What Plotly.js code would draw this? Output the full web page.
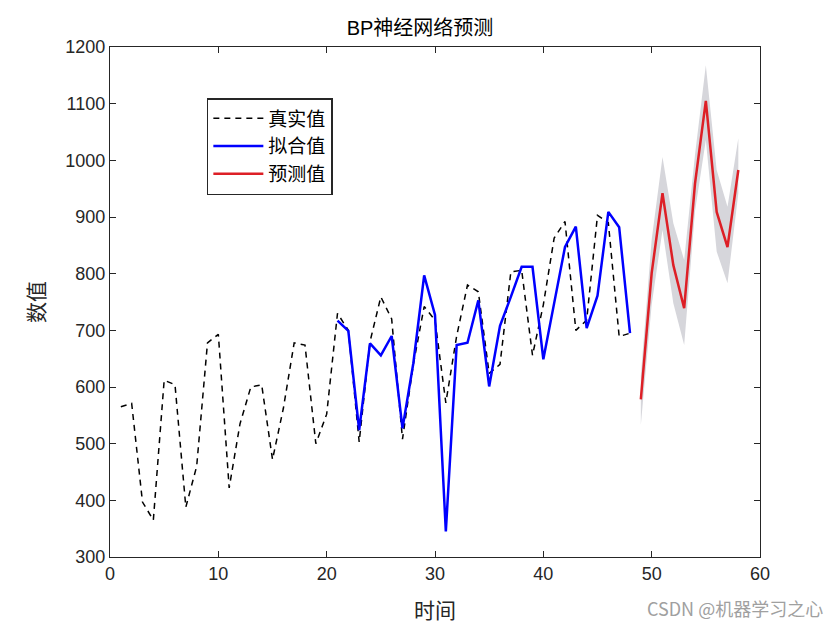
<!DOCTYPE html>
<html>
<head>
<meta charset="utf-8">
<script src="https://cdn.plot.ly/plotly-3.0.1.min.js"></script>
<style>body{margin:0;padding:0;background:#fff;} #chart{width:840px;height:630px;}</style>
</head>
<body>
<div id="chart"></div>
<script>
const trueX = [1,2,3,4,5,6,7,8,9,10,11,12,13,14,15,16,17,18,19,20,21,22,23,24,25,26,27,28,29,30,31,32,33,34,35,36,37,38,39,40,41,42,43,44,45,46,47,48];
const trueY = [565,571,397,365,612,604,388,460,678,693,422,535,600,604,472,562,678,674,500,552,730,700,503,680,759,720,508,640,742,718,572,690,780,768,624,640,803,806,656,745,863,892,700,718,903,890,689,695];
const fitX = [21,22,23,24,25,26,27,28,29,30,31,32,33,34,35,36,37,38,39,40,41,42,43,44,45,46,47,48];
const fitY = [717,699,524,677,656,690,527,642,797,727,345,674,678,753,601,708,759,812,812,649,748,847,883,704,761,909,882,695];
const predX = [49,50,51,52,53,54,55,56,57,58];
const predY = [578,801,942,815,739,959,1105,909,847,983];
const predUpper = [620,860,1006,889,824,1010,1168,983,918,1039];
const predLower = [533,745,877,748,674,910,1036,839,783,942];
const xTicks = [0,10,20,30,40,50,60];
const yTicks = [300,400,500,600,700,800,900,1000,1100,1200];

const cjk = '"Noto Sans CJK SC", sans-serif';
const tickFont = {family: '"Liberation Sans", Arial, sans-serif', size: 18, color: '#262626'};

const traces = [
  {x: trueX, y: trueY, mode: 'lines', name: '真实值', line: {color: '#000000', width: 1.5, dash: '6px,5px'}},
  {x: fitX, y: fitY, mode: 'lines', name: '拟合值', line: {color: '#0000ff', width: 2.5}},
  {x: predX, y: predUpper, mode: 'lines', line: {width: 0, color: 'rgba(0,0,0,0)'}, showlegend: false, hoverinfo: 'skip'},
  {x: predX, y: predLower, mode: 'lines', line: {width: 0, color: 'rgba(0,0,0,0)'}, fill: 'tonexty', fillcolor: 'rgb(214,214,219)', showlegend: false, hoverinfo: 'skip'},
  {x: predX, y: predY, mode: 'lines', name: '预测值', line: {color: '#dd1f26', width: 2.5}}
];

const layout = {
  width: 840, height: 630,
  margin: {l: 110, r: 80, t: 47, b: 73},
  paper_bgcolor: '#ffffff', plot_bgcolor: '#ffffff',
  title: {text: 'BP神经网络预测', font: {family: '"Liberation Sans", ' + cjk, size: 20, color: '#000'}, x: 0.5, xanchor: 'center', y: 0.955, yanchor: 'middle'},
  xaxis: {
    range: [0, 60], tickvals: xTicks, ticktext: xTicks.map(String),
    showgrid: false, zeroline: false, showline: true, linecolor: '#262626', linewidth: 1.2,
    mirror: 'ticks', ticks: 'inside', ticklen: 6, tickcolor: '#262626', tickwidth: 1,
    tickfont: tickFont,
    title: {text: '时间', font: {family: cjk, size: 21, color: '#262626'}, standoff: 20}
  },
  yaxis: {
    range: [300, 1200], tickvals: yTicks, ticktext: yTicks.map(String),
    showgrid: false, zeroline: false, showline: true, linecolor: '#262626', linewidth: 1.2,
    mirror: 'ticks', ticks: 'inside', ticklen: 6, tickcolor: '#262626', tickwidth: 1,
    tickfont: tickFont,
    title: {text: '数值', font: {family: cjk, size: 21, color: '#262626'}, standoff: 14}
  },
  legend: {
    x: 0.149, y: 0.9, xanchor: 'left', yanchor: 'top', traceorder: 'normal',
    bgcolor: '#ffffff', bordercolor: '#262626', borderwidth: 1.5,
    font: {family: cjk, size: 19, color: '#000'},
    itemwidth: 50, tracegroupgap: 0
  },
  annotations: [{
    text: 'CSDN @机器学习之心', xref: 'paper', yref: 'paper', x: 1.1, y: -0.1, xanchor: 'right', yanchor: 'middle',
    showarrow: false, font: {family: cjk, size: 18, color: '#a0a0a0'}
  }],
  showlegend: true
};

Plotly.newPlot('chart', traces, layout, {displayModeBar: false, staticPlot: true});
</script>
</body>
</html>
